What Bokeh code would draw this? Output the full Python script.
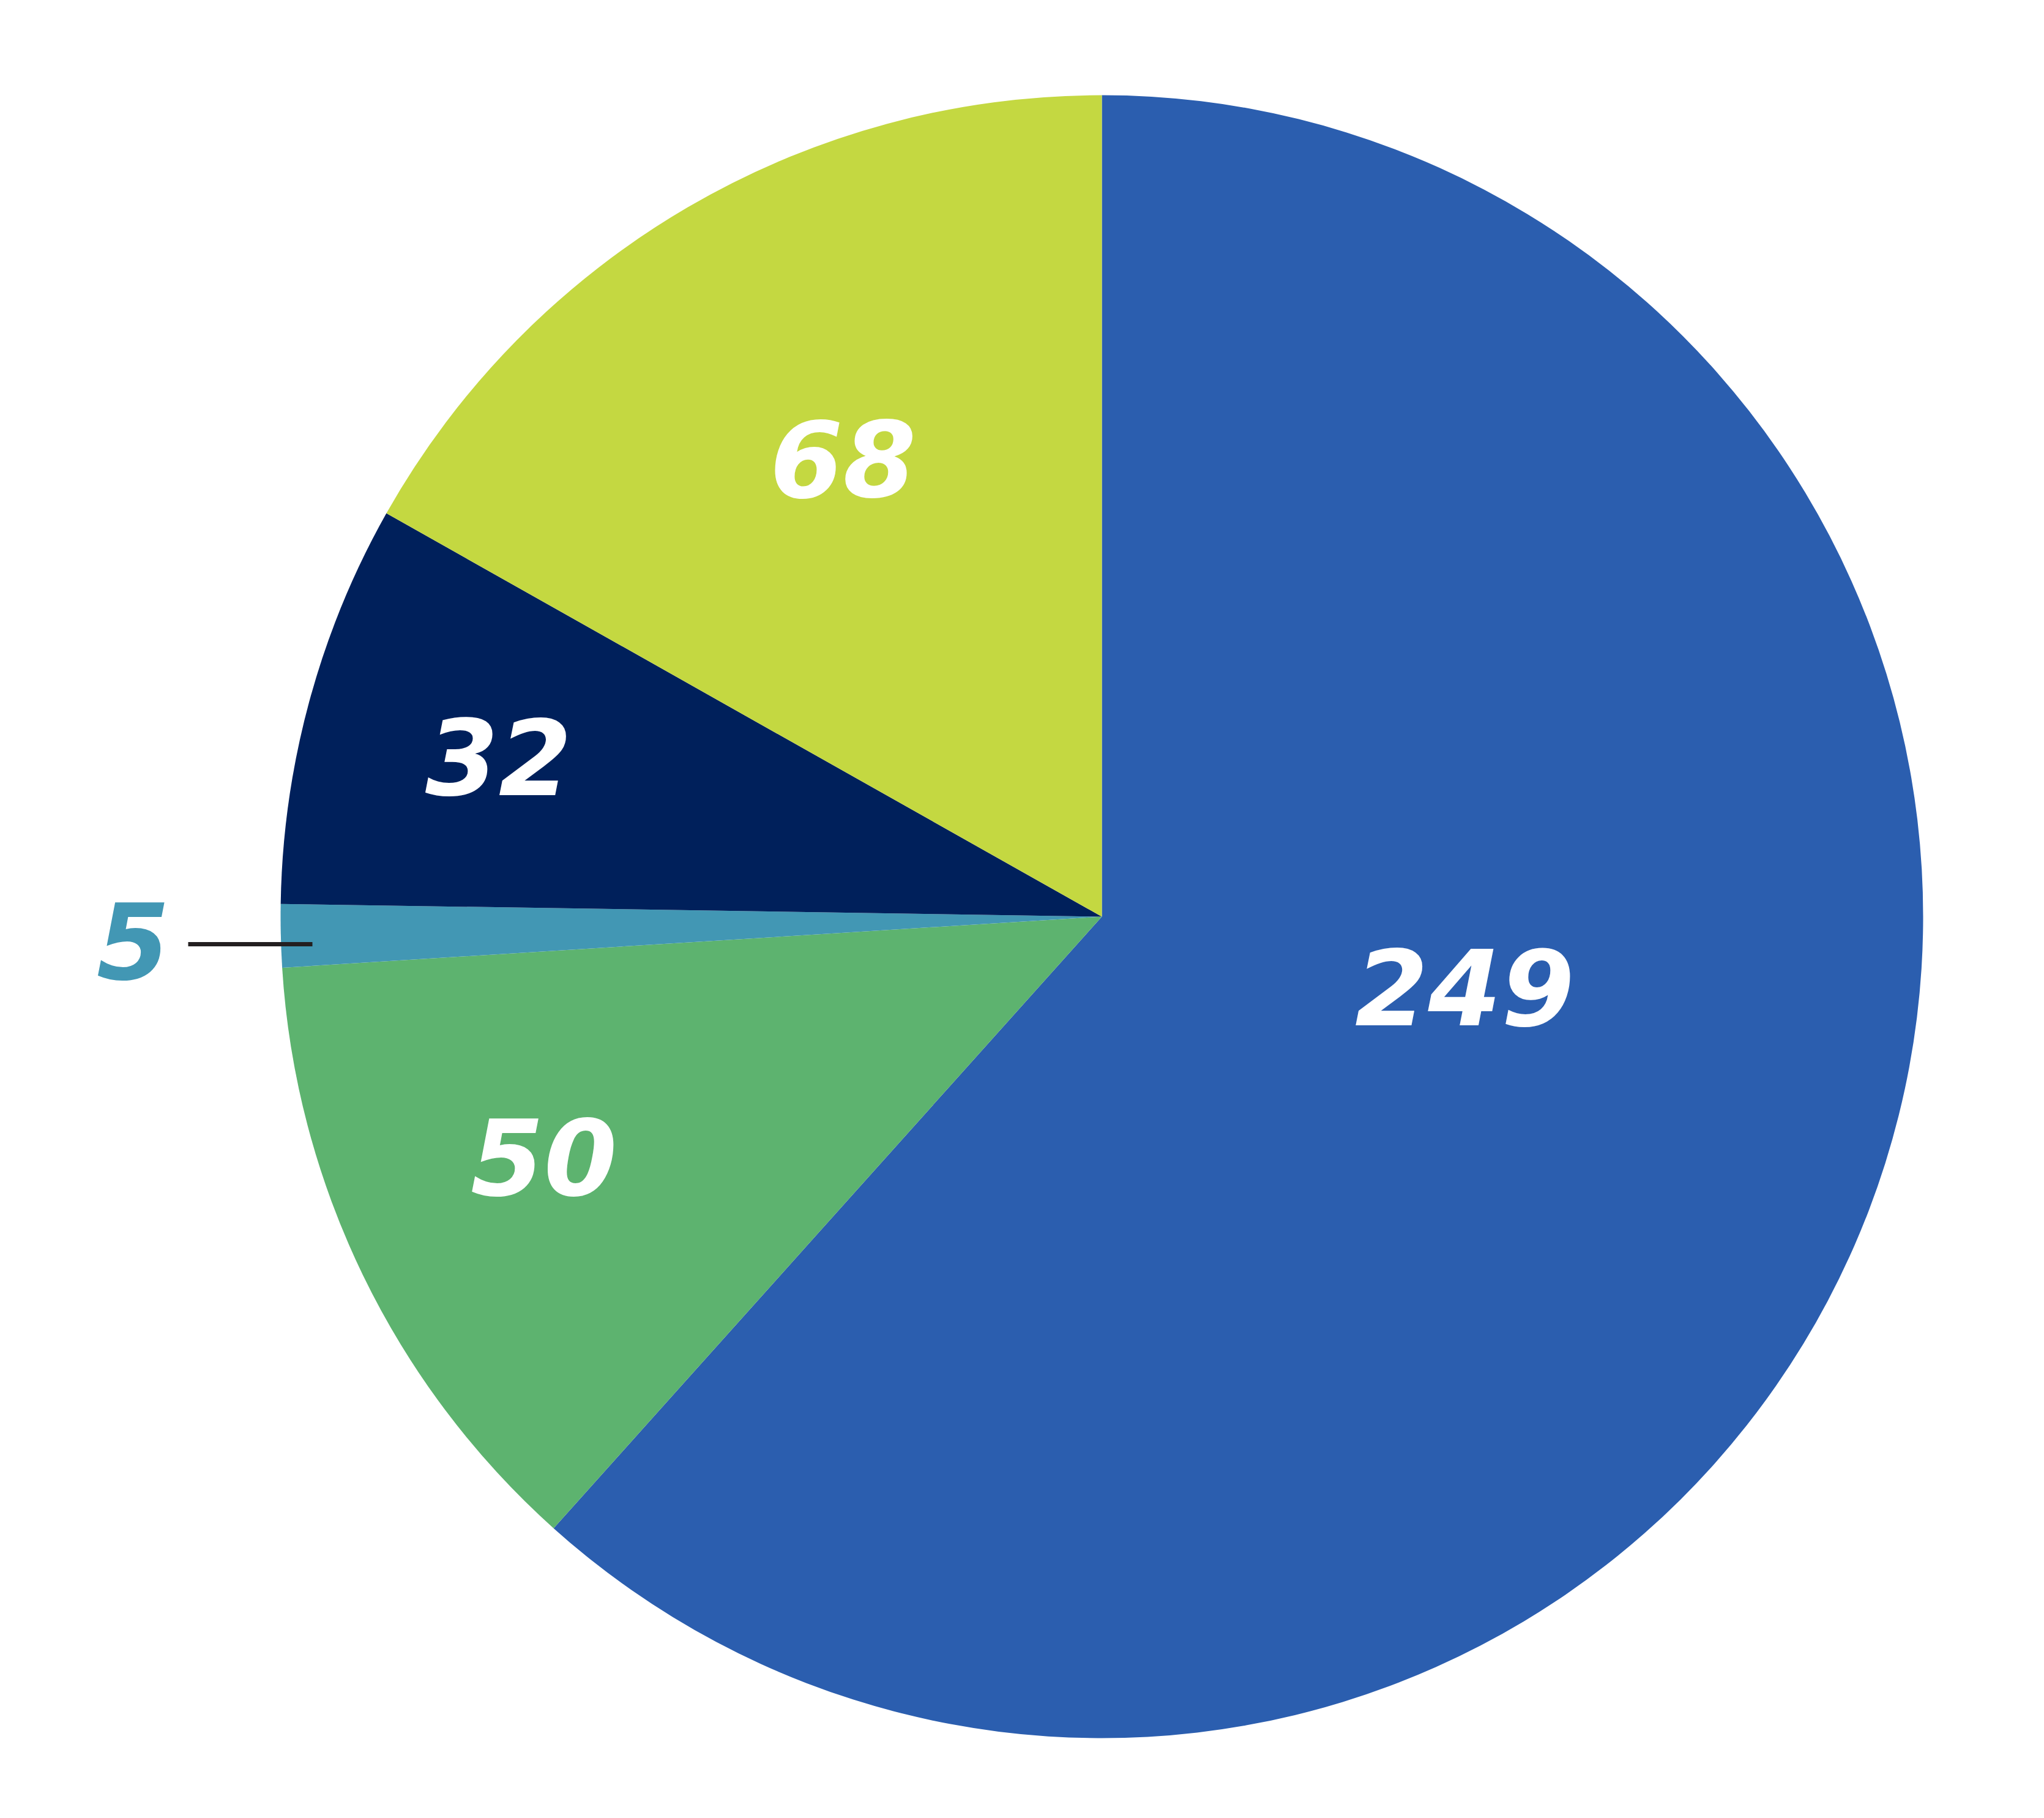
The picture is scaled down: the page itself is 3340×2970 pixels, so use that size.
import math
from bokeh.plotting import figure
from bokeh.models import Range1d, ColumnDataSource
from bokeh.core.properties import value
from bokeh.embed import file_html
from bokeh.resources import INLINE

# ---- data (clockwise from 12 o'clock) ----
labels = ["249", "50", "5", "32", "68"]
values = [249, 50, 5, 32, 68]
colors = ["#2B5EAF", "#5DB36F", "#4297B4", "#00205B", "#C4D841"]
text_colors = ["#FFFFFF", "#FFFFFF", "#4297B4", "#FFFFFF", "#FFFFFF"]

# ---- layout ----
W, H = 3324, 2954
CX, CY = 1808, 2970 - 1505
R = 1342
label_r = [0.45, 0.74, None, 0.76, 0.64]       # fraction of radius
label_ang_shift = [10.0, -2.5, 0.0, 0.3, -0.8]  # degrees
outside_label = (225, 2970 - 1545)
leader = (315, 518, 2970 - 1550)
FONT = "DejaVu Sans"
FS = "172px"

total = float(sum(values))
starts, ends = [], []
a = math.pi / 2
for v in values:
    span = v / total * 2 * math.pi
    starts.append(a)
    ends.append(a - span)
    a -= span

p = figure(width=W, height=H, x_range=Range1d(8, 8 + W), y_range=Range1d(2970 - 8 - H, 2970 - 8),
           output_backend="svg", toolbar_location=None, min_border=0)
p.axis.visible = False
p.grid.visible = False
p.outline_line_color = None
p.background_fill_color = "white"
p.border_fill_color = "white"

src = ColumnDataSource(dict(x=[CX] * len(values), y=[CY] * len(values),
                            start=ends, end=starts, color=colors))
p.wedge(x="x", y="y", radius=R, start_angle="start", end_angle="end",
        color="color", line_color=None, source=src)

tx, ty, tt, tc = [], [], [], []
for i, lab in enumerate(labels):
    if label_r[i] is None:
        x, y = outside_label
    else:
        mid = (starts[i] + ends[i]) / 2 + math.radians(label_ang_shift[i])
        x = CX + label_r[i] * R * math.cos(mid)
        y = CY + label_r[i] * R * math.sin(mid)
    tx.append(x); ty.append(y); tt.append(lab); tc.append(text_colors[i])

p.text(x=tx, y=ty, text=tt, text_color=tc, text_font=value(FONT),
       text_font_size=FS, text_font_style="bold italic",
       text_align="center", text_baseline="middle")

p.segment(x0=[leader[0]], y0=[leader[2]], x1=[leader[1]], y1=[leader[2]],
          line_color="#231F20", line_width=7)

open("out.html", "w").write(file_html(p, INLINE))
